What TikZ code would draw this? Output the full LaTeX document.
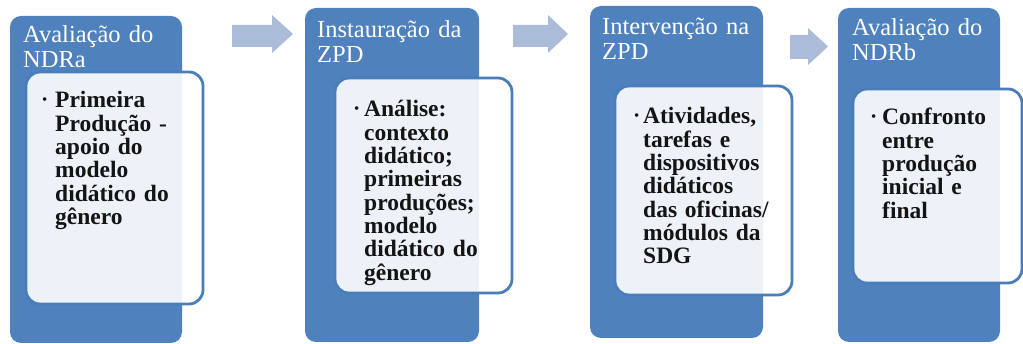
\documentclass[tikz,border=0pt]{standalone}
\usepackage{fontspec}
\setmainfont{Liberation Serif}
\definecolor{boxblue}{HTML}{4F81BD}
\definecolor{edgeblue}{HTML}{4A7DBA}
\definecolor{arrowblue}{HTML}{AABCD8}
\definecolor{bodytext}{HTML}{141414}
\begin{document}
\begin{tikzpicture}[x=1pt,y=-1pt,
  outerbox/.style={draw=none,fill=boxblue,rounded corners=11pt,inner sep=0pt},
  innerbox/.style={draw=edgeblue,line width=2.8pt,fill=white,fill opacity=0.9,rounded corners=14pt,inner sep=0pt},
  titletext/.style={anchor=base west,inner sep=0pt,text width=200pt,align=left,text=white,font=\fontsize{24.5}{25}\selectfont},
  bodytxt/.style={anchor=base west,inner sep=0pt,text width=200pt,align=left,text=bodytext,font=\bfseries\fontsize{23.5}{23.3}\selectfont},
  bulletmark/.style={anchor=base west,inner sep=0pt,text=bodytext,font=\fontsize{15}{15}\selectfont},
  flowarrow/.style={fill=arrowblue,draw=none}
]
\useasboundingbox (0,0) rectangle (1023,344);

% outer boxes
\node[outerbox,minimum width=172pt,minimum height=327pt] (o1) at (96,179.5) {};
\node[outerbox,minimum width=174pt,minimum height=334pt] (o2) at (392,175) {};
\node[outerbox,minimum width=173pt,minimum height=332pt] (o3) at (676.5,172) {};
\node[outerbox,minimum width=162pt,minimum height=334pt] (o4) at (919,175) {};

% inner boxes
\node[innerbox,minimum width=177pt,minimum height=232pt] (i1) at (114.5,188) {};
\node[innerbox,minimum width=177pt,minimum height=215pt] (i2) at (423.5,185.5) {};
\node[innerbox,minimum width=177pt,minimum height=209pt] (i3) at (703.5,190.5) {};
\node[innerbox,minimum width=169pt,minimum height=194pt] (i4) at (937.5,186) {};

% arrows
\fill[flowarrow] (232,25) -- (272,25) -- (272,15) -- (293,34) -- (272,53) -- (272,47) -- (232,47) -- cycle;
\fill[flowarrow] (513,25) -- (548,25) -- (548,15) -- (568,34) -- (548,53) -- (548,47) -- (513,47) -- cycle;
\fill[flowarrow] (790,35) -- (808,35) -- (808,28) -- (828,46.5) -- (808,65) -- (808,59) -- (790,59) -- cycle;

% titles
\node[titletext] (t1) at (23,43) {Avaliação do\\NDRa};
\node[titletext] (t2) at (317,38) {Instauração da\\ZPD};
\node[titletext] (t3) at (602,35) {Intervenção na\\ZPD};
\node[titletext] (t4) at (852,36) {Avaliação do\\NDRb};

% bullets
\node[bulletmark] (b1) at (42,105) {•};
\node[bulletmark] (b2) at (354,114) {•};
\node[bulletmark] (b3) at (634,121) {•};
\node[bulletmark] (b4) at (871,122) {•};

% body texts
\node[bodytxt] (x1) at (55,108) {Primeira\\Produção -\\apoio do\\modelo\\didático do\\gênero};
\node[bodytxt] (x2) at (364,117) {Análise:\\contexto\\didático;\\primeiras\\produções;\\modelo\\didático do\\gênero};
\node[bodytxt] (x3) at (643,124) {Atividades,\\tarefas e\\dispositivos\\didáticos\\das oficinas/\\módulos da\\SDG};
\node[bodytxt] (x4) at (882,125) {Confronto\\entre\\produção\\inicial e\\final};
\end{tikzpicture}
\end{document}
